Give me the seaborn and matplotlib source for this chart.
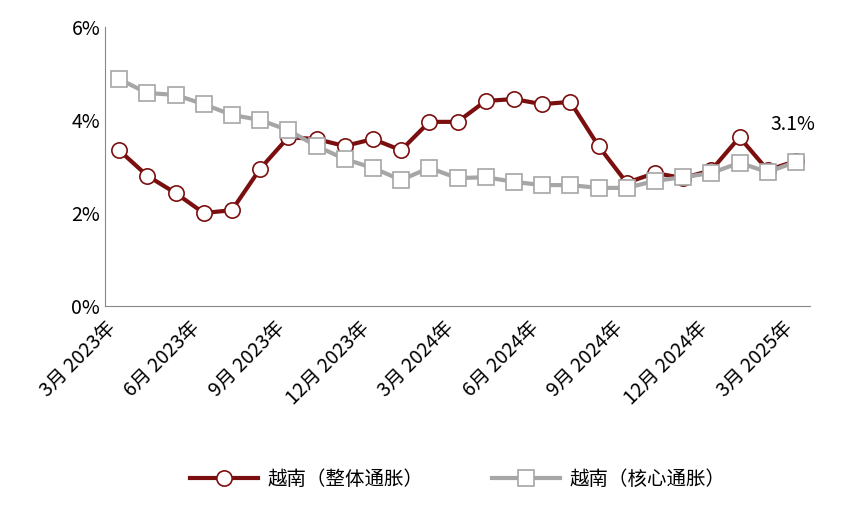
import numpy as np
import pandas as pd
import seaborn as sns
import matplotlib.pyplot as plt

plt.rcParams['font.family'] = ['Noto Sans CJK SC']

months = pd.period_range('2023-03', '2025-03', freq='M')
headline = [3.35, 2.80, 2.43, 2.00, 2.06, 2.95, 3.63, 3.59, 3.44, 3.59, 3.35, 3.96, 3.96,
            4.41, 4.45, 4.34, 4.39, 3.44, 2.65, 2.86, 2.75, 2.92, 3.63, 2.92, 3.12]
core = [4.88, 4.58, 4.54, 4.34, 4.11, 4.00, 3.78, 3.44, 3.16, 2.97, 2.71, 2.97, 2.75,
        2.77, 2.67, 2.60, 2.60, 2.54, 2.54, 2.69, 2.77, 2.86, 3.08, 2.88, 3.10]
labels = [f"{p.month}月 {p.year}年" for p in months]

df = pd.DataFrame({'x': np.arange(len(months)), '越南（整体通胀）': headline, '越南（核心通胀）': core})
long = df.melt('x', var_name='series', value_name='v')

fig = plt.figure(figsize=(8.47, 5.12), dpi=100)
ax = fig.add_axes([105/847, 1-306/512, 705/847, 279/512])

sns.lineplot(data=long, x='x', y='v', hue='series', style='series',
             palette=['#7B0F0F', '#A6A6A6'], markers=['o', 's'], dashes=False,
             lw=3, ms=11, markerfacecolor='white', markeredgewidth=1.2, ax=ax)
for ln, c in zip(ax.lines, ['#7B0F0F', '#A6A6A6']):
    ln.set_markeredgecolor(c)

ax.set_xlim(-0.5, len(months) - 0.5)
ax.set_ylim(0, 6)
ax.set_yticks([0, 2, 4, 6])
ax.set_yticklabels(['0%', '2%', '4%', '6%'], fontsize=14)
ax.set_xticks(np.arange(0, len(months), 3) - 0.5)
ax.set_xticklabels(labels[::3], rotation=45, ha='right', rotation_mode='anchor', fontsize=14)
ax.tick_params(axis='x', length=0, pad=8)
ax.tick_params(axis='y', length=0)
for s in ['top', 'right']:
    ax.spines[s].set_visible(False)
ax.spines['left'].set_color('#888888')
ax.spines['bottom'].set_color('#888888')
ax.set_xlabel('')
ax.set_ylabel('')
ax.annotate('3.1%', (24, 3.12), xytext=(-2, 22), textcoords='offset points',
            ha='center', fontsize=14)

h, l = ax.get_legend_handles_labels()
for hh, c in zip(h, ['#7B0F0F', '#A6A6A6']):
    hh.set_markerfacecolor('white'); hh.set_markeredgecolor(c)
ax.legend(h, l, loc='center', bbox_to_anchor=(0.5, -0.62), ncol=2, frameon=False,
          fontsize=14, handlelength=3.5, columnspacing=3.5, handletextpad=0.5)

plt.savefig('out.png')
